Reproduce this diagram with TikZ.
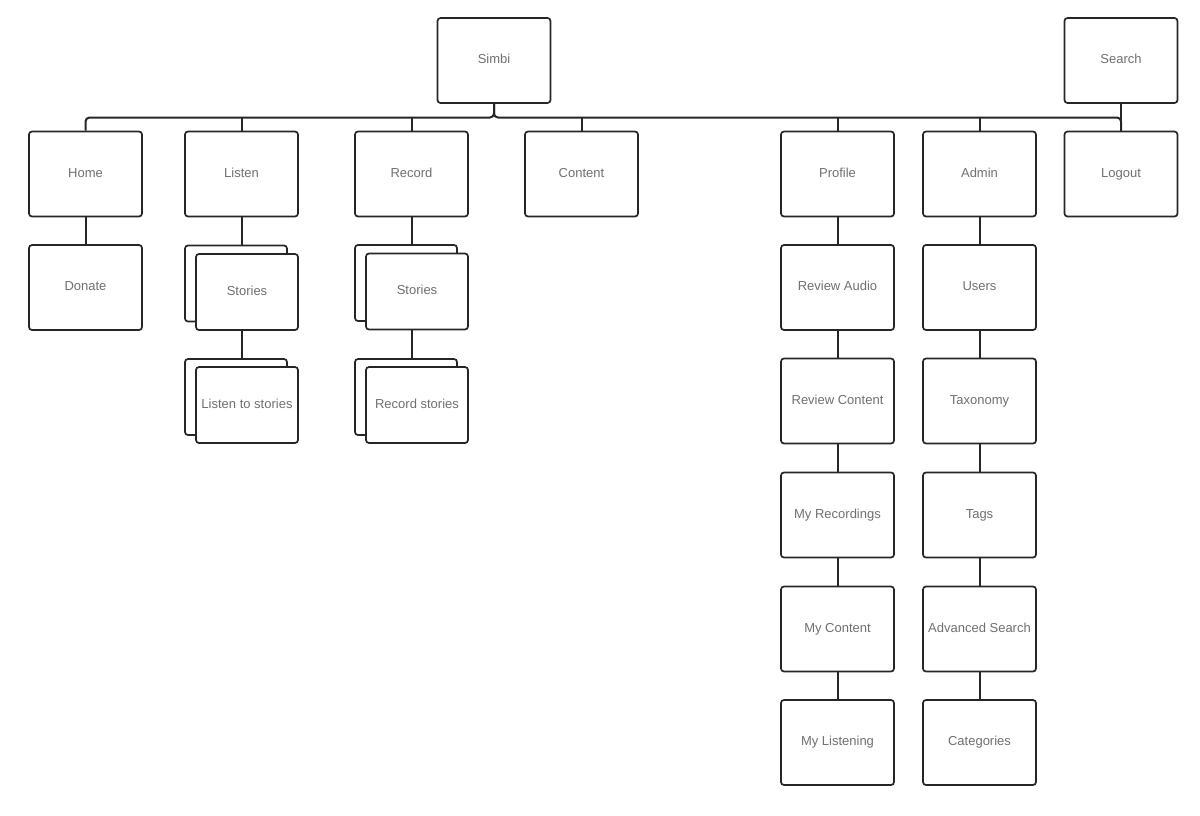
\documentclass[tikz,border=0pt]{standalone}
\usepackage{fontspec}
\setmainfont{Liberation Sans}
\begin{document}
\begin{tikzpicture}[x=1pt,y=-1pt,
  every node/.style={font=\fontsize{13}{15}\selectfont, text=txtgray, text height=9pt, text depth=3pt},
  box/.style={draw=black!85, line width=1.7pt, rounded corners=3pt, fill=white,
    minimum width=113pt, minimum height=85pt, inner sep=0pt},
  sbox/.style={draw=black!85, line width=1.7pt, rounded corners=3pt, fill=white,
    minimum width=102pt, minimum height=76pt, inner sep=0pt},
  wire/.style={draw=black!85, line width=2pt},
]
\definecolor{txtgray}{HTML}{707070}
\useasboundingbox (0,0) rectangle (1200,815);
% top
\node[box] (simbi) at (494,60.5) {Simbi};
\node[box] (search) at (1121,60.5) {Search};
% row 1
\node[box] (home) at (85.5,174) {Home};
\node[box] (listen) at (241.5,174) {Listen};
\node[box] (record) at (411.5,174) {Record};
\node[box] (content) at (581.5,174) {Content};
\node[box] (profile) at (837.5,174) {Profile};
\node[box] (admin) at (979.5,174) {Admin};
\node[box] (logout) at (1121,174) {Logout};
% home
\node[box] (donate) at (85.5,287.5) {Donate};
% listen stacks
\node[sbox] (lsback) at (236,283.5) {};
\node[sbox] (lsfront) at (247,292) {Stories};
\node[sbox] (ltsback) at (236,397) {};
\node[sbox] (ltsfront) at (247,405) {Listen to stories};
% record stacks
\node[sbox] (rsback) at (406,283) {};
\node[sbox] (rsfront) at (417,291.5) {Stories};
\node[sbox] (rstback) at (406,397) {};
\node[sbox] (rstfront) at (417,405) {Record stories};
% profile chain
\node[box] (revaudio) at (837.5,287.5) {Review Audio};
\node[box] (revcontent) at (837.5,401) {Review Content};
\node[box] (myrec) at (837.5,515) {My Recordings};
\node[box] (mycontent) at (837.5,629) {My Content};
\node[box] (mylisten) at (837.5,742.5) {My Listening};
% admin chain
\node[box] (users) at (979.5,287.5) {Users};
\node[box] (taxonomy) at (979.5,401) {Taxonomy};
\node[box] (tags) at (979.5,515) {Tags};
\node[box] (advsearch) at (979.5,629) {Advanced Search};
\node[box] (categories) at (979.5,742.5) {Categories};
% bus
\coordinate (bus) at (494,117.5);
\draw[wire, rounded corners=4pt] (simbi.south) -- (bus) -| (home.north);
\draw[wire, rounded corners=4pt] (simbi.south) -- (bus) -| (logout.north);
\foreach \n in {listen,record,content,profile,admin}
  \draw[wire] (\n.north) -- (\n.north |- bus);
\draw[wire] (search.south) -- (logout.north);
% vertical chains
\draw[wire] (home.south) -- (donate.north);
\draw[wire] (listen.south) -- (listen.south |- lsback.north);
\draw[wire] (lsfront.south -| listen.south) -- (listen.south |- ltsback.north);
\draw[wire] (record.south) -- (record.south |- rsback.north);
\draw[wire] (rsfront.south -| record.south) -- (record.south |- rstback.north);
\draw[wire] (profile) -- (revaudio) -- (revcontent) -- (myrec) -- (mycontent) -- (mylisten);
\draw[wire] (admin) -- (users) -- (taxonomy) -- (tags) -- (advsearch) -- (categories);
\end{tikzpicture}
\end{document}
